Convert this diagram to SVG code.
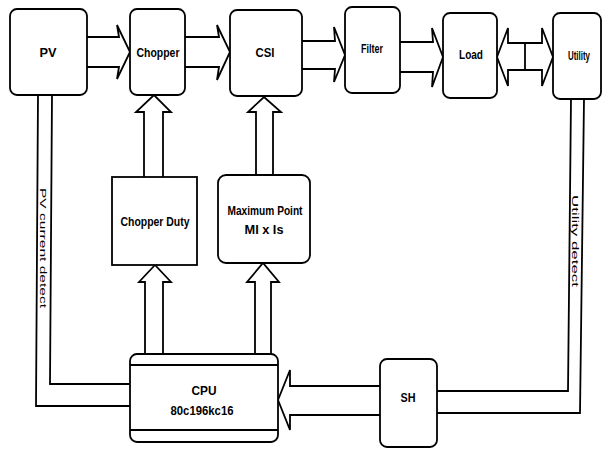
<svg xmlns="http://www.w3.org/2000/svg" width="605" height="449" viewBox="0 0 605 449">
<style>
.box{fill:#fff;stroke:#000;stroke-width:1.8}
.arr{fill:#fff;stroke:#000;stroke-width:1.8;stroke-linejoin:miter}
.ln{fill:none;stroke:#000;stroke-width:1.8}
.t{font-family:"Liberation Sans",Arial,sans-serif;font-size:13.5px;font-weight:bold;text-anchor:middle;fill:#000}
.r{font-family:"Liberation Sans",Arial,sans-serif;font-size:9.5px;fill:#000}
</style>
<rect width="605" height="449" fill="#fff"/>
<g id="connectors">
<path class="arr" d="M87,37 L119,37 L117,25 L130,52 L117,79 L119,67 L87,67"/>
<path class="arr" d="M185,37 L219,37 L217,25 L230,52 L217,80 L219,67 L185,67"/>
<path class="arr" d="M302,41 L335,41 L334,27 L345,55 L334,82 L335,69 L302,69"/>
<path class="arr" d="M400,42 L433,42 L432,28 L443,57 L432,87 L433,72 L400,72"/>
<path class="arr" d="M497,57 L508,28 L508,43 L542,43 L542,28 L553,57 L542,86 L542,70 L508,70 L508,86 Z"/>
<line class="ln" x1="525" y1="43" x2="525" y2="70"/>
<path class="arr" d="M144,177 L144,112 L136,112 L154,95 L171,112 L163,112 L163,177"/>
<path class="arr" d="M256,175 L256,112 L248,112 L264,97 L281,112 L273,112 L273,175"/>
<path class="arr" d="M145,354 L145,282 L139,282 L155,265 L171,282 L163,282 L163,354"/>
<path class="arr" d="M255,354 L255,282 L247,282 L263,263 L279,282 L271,282 L271,354"/>
<path class="arr" d="M380,386 L290,386 L290,370 L278,400 L290,430 L290,415 L380,415"/>
<path class="ln" d="M38,95 L36,406 L130,406"/>
<path class="ln" d="M52,95 L50,384 L130,384"/>
<path class="ln" d="M571,99 L568,391 L437,391"/>
<path class="ln" d="M584,99 L580,413 L437,413"/>
<text class="r" transform="translate(40,188) rotate(90)" textLength="120" lengthAdjust="spacingAndGlyphs">PV current  detect</text>
<text class="r" transform="translate(572,195) rotate(90)" textLength="92" lengthAdjust="spacingAndGlyphs">Utility  detect</text>
</g>
<g id="pv"><rect class="box" x="10" y="9" width="77" height="86" rx="7"/><text class="t" x="48" y="57" textLength="17" lengthAdjust="spacingAndGlyphs">PV</text></g>
<g id="chopper"><rect class="box" x="130" y="9" width="55" height="86" rx="7"/><text class="t" x="158" y="57" textLength="43" lengthAdjust="spacingAndGlyphs">Chopper</text></g>
<g id="csi"><rect class="box" x="230" y="10" width="72" height="86" rx="7"/><text class="t" x="265" y="57" textLength="19" lengthAdjust="spacingAndGlyphs">CSI</text></g>
<g id="filter"><rect class="box" x="345" y="7" width="55" height="86" rx="7"/><text class="t" x="372" y="53" textLength="22" lengthAdjust="spacingAndGlyphs">Filter</text></g>
<g id="load"><rect class="box" x="443" y="13" width="54" height="85" rx="7"/><text class="t" x="471" y="59" textLength="24" lengthAdjust="spacingAndGlyphs">Load</text></g>
<g id="utility"><rect class="box" x="553" y="13" width="48" height="86" rx="7"/><text class="t" x="579" y="60" textLength="22" lengthAdjust="spacingAndGlyphs">Utility</text></g>
<g id="chopper-duty"><rect class="box" x="112" y="177" width="85" height="88"/><text class="t" x="155" y="226" textLength="69" lengthAdjust="spacingAndGlyphs">Chopper Duty</text></g>
<g id="maximum-point"><rect class="box" x="218" y="175" width="92" height="88" rx="8"/><text class="t" x="265" y="215" textLength="75" lengthAdjust="spacingAndGlyphs">Maximum Point</text><text class="t" x="264" y="234" textLength="39" lengthAdjust="spacingAndGlyphs">MI x Is</text></g>
<g id="cpu"><rect class="box" x="130" y="354" width="148" height="88" rx="7"/><line class="ln" x1="130" y1="365" x2="278" y2="365"/><line class="ln" x1="130" y1="430" x2="278" y2="430"/><text class="t" x="204" y="395" textLength="25" lengthAdjust="spacingAndGlyphs">CPU</text><text class="t" x="202" y="415" textLength="63" lengthAdjust="spacingAndGlyphs">80c196kc16</text></g>
<g id="sh"><rect class="box" x="380" y="359" width="57" height="88" rx="7"/><text class="t" x="408" y="402" textLength="15" lengthAdjust="spacingAndGlyphs">SH</text></g>
</svg>
